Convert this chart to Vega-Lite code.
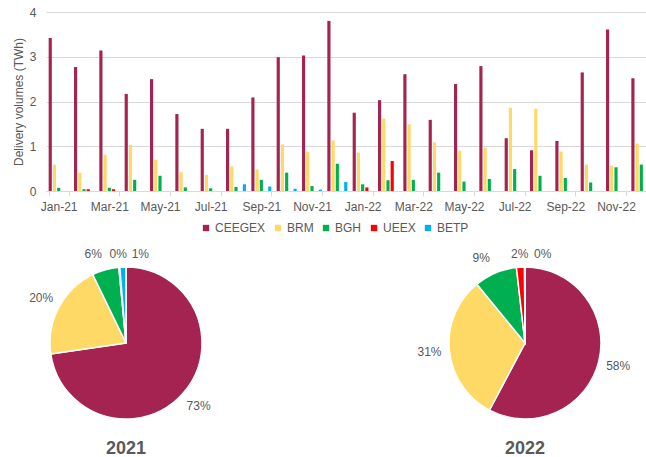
{
  "$schema": "https://vega.github.io/schema/vega-lite/v6.json",
  "padding": {"left": 12, "top": 6, "right": 0, "bottom": 0},
  "bounds": "flush",
  "spacing": 73,
  "config": {
    "font": "Liberation Sans",
    "view": {"stroke": null},
    "axis": {"labelFont": "Liberation Sans", "titleFont": "Liberation Sans"},
    "legend": {"labelFont": "Liberation Sans"},
    "title": {"font": "Liberation Sans"}
  },
  "resolve": {"scale": {"color": "independent"}, "legend": {"color": "independent"}},
  "datasets": {
    "monthly": [
      {"month": "Jan-21", "market": "CEEGEX", "value": 3.42},
      {"month": "Jan-21", "market": "BRM", "value": 0.59},
      {"month": "Jan-21", "market": "BGH", "value": 0.07},
      {"month": "Feb-21", "market": "CEEGEX", "value": 2.77},
      {"month": "Feb-21", "market": "BRM", "value": 0.41},
      {"month": "Feb-21", "market": "BGH", "value": 0.04},
      {"month": "Feb-21", "market": "UEEX", "value": 0.04},
      {"month": "Mar-21", "market": "CEEGEX", "value": 3.14},
      {"month": "Mar-21", "market": "BRM", "value": 0.81},
      {"month": "Mar-21", "market": "BGH", "value": 0.07},
      {"month": "Mar-21", "market": "UEEX", "value": 0.04},
      {"month": "Apr-21", "market": "CEEGEX", "value": 2.17},
      {"month": "Apr-21", "market": "BRM", "value": 1.03},
      {"month": "Apr-21", "market": "BGH", "value": 0.25},
      {"month": "May-21", "market": "CEEGEX", "value": 2.5},
      {"month": "May-21", "market": "BRM", "value": 0.7},
      {"month": "May-21", "market": "BGH", "value": 0.34},
      {"month": "Jun-21", "market": "CEEGEX", "value": 1.72},
      {"month": "Jun-21", "market": "BRM", "value": 0.42},
      {"month": "Jun-21", "market": "BGH", "value": 0.08},
      {"month": "Jul-21", "market": "CEEGEX", "value": 1.39},
      {"month": "Jul-21", "market": "BRM", "value": 0.36},
      {"month": "Jul-21", "market": "BGH", "value": 0.06},
      {"month": "Aug-21", "market": "CEEGEX", "value": 1.39},
      {"month": "Aug-21", "market": "BRM", "value": 0.55},
      {"month": "Aug-21", "market": "BGH", "value": 0.09},
      {"month": "Aug-21", "market": "BETP", "value": 0.15},
      {"month": "Sep-21", "market": "CEEGEX", "value": 2.09},
      {"month": "Sep-21", "market": "BRM", "value": 0.48},
      {"month": "Sep-21", "market": "BGH", "value": 0.25},
      {"month": "Sep-21", "market": "BETP", "value": 0.1},
      {"month": "Oct-21", "market": "CEEGEX", "value": 2.99},
      {"month": "Oct-21", "market": "BRM", "value": 1.04},
      {"month": "Oct-21", "market": "BGH", "value": 0.41},
      {"month": "Oct-21", "market": "BETP", "value": 0.05},
      {"month": "Nov-21", "market": "CEEGEX", "value": 3.03},
      {"month": "Nov-21", "market": "BRM", "value": 0.88},
      {"month": "Nov-21", "market": "BGH", "value": 0.11},
      {"month": "Nov-21", "market": "BETP", "value": 0.03},
      {"month": "Dec-21", "market": "CEEGEX", "value": 3.8},
      {"month": "Dec-21", "market": "BRM", "value": 1.13},
      {"month": "Dec-21", "market": "BGH", "value": 0.61},
      {"month": "Dec-21", "market": "BETP", "value": 0.2},
      {"month": "Jan-22", "market": "CEEGEX", "value": 1.75},
      {"month": "Jan-22", "market": "BRM", "value": 0.86},
      {"month": "Jan-22", "market": "BGH", "value": 0.15},
      {"month": "Jan-22", "market": "UEEX", "value": 0.08},
      {"month": "Feb-22", "market": "CEEGEX", "value": 2.03},
      {"month": "Feb-22", "market": "BRM", "value": 1.62},
      {"month": "Feb-22", "market": "BGH", "value": 0.24},
      {"month": "Feb-22", "market": "UEEX", "value": 0.67},
      {"month": "Mar-22", "market": "CEEGEX", "value": 2.61},
      {"month": "Mar-22", "market": "BRM", "value": 1.49},
      {"month": "Mar-22", "market": "BGH", "value": 0.25},
      {"month": "Apr-22", "market": "CEEGEX", "value": 1.59},
      {"month": "Apr-22", "market": "BRM", "value": 1.09},
      {"month": "Apr-22", "market": "BGH", "value": 0.41},
      {"month": "May-22", "market": "CEEGEX", "value": 2.39},
      {"month": "May-22", "market": "BRM", "value": 0.9},
      {"month": "May-22", "market": "BGH", "value": 0.21},
      {"month": "Jun-22", "market": "CEEGEX", "value": 2.79},
      {"month": "Jun-22", "market": "BRM", "value": 0.97},
      {"month": "Jun-22", "market": "BGH", "value": 0.27},
      {"month": "Jul-22", "market": "CEEGEX", "value": 1.18},
      {"month": "Jul-22", "market": "BRM", "value": 1.86},
      {"month": "Jul-22", "market": "BGH", "value": 0.49},
      {"month": "Aug-22", "market": "CEEGEX", "value": 0.91},
      {"month": "Aug-22", "market": "BRM", "value": 1.84},
      {"month": "Aug-22", "market": "BGH", "value": 0.34},
      {"month": "Sep-22", "market": "CEEGEX", "value": 1.12},
      {"month": "Sep-22", "market": "BRM", "value": 0.88},
      {"month": "Sep-22", "market": "BGH", "value": 0.29},
      {"month": "Oct-22", "market": "CEEGEX", "value": 2.65},
      {"month": "Oct-22", "market": "BRM", "value": 0.59},
      {"month": "Oct-22", "market": "BGH", "value": 0.19},
      {"month": "Nov-22", "market": "CEEGEX", "value": 3.61},
      {"month": "Nov-22", "market": "BRM", "value": 0.57},
      {"month": "Nov-22", "market": "BGH", "value": 0.53},
      {"month": "Dec-22", "market": "CEEGEX", "value": 2.52},
      {"month": "Dec-22", "market": "BRM", "value": 1.06},
      {"month": "Dec-22", "market": "BGH", "value": 0.59}
    ],
    "shares": [
      {"year": 2021, "market": "CEEGEX", "share": 0.727},
      {"year": 2021, "market": "BRM", "share": 0.201},
      {"year": 2021, "market": "BGH", "share": 0.057},
      {"year": 2021, "market": "UEEX", "share": 0.002},
      {"year": 2021, "market": "BETP", "share": 0.013},
      {"year": 2022, "market": "CEEGEX", "share": 0.577},
      {"year": 2022, "market": "BRM", "share": 0.313},
      {"year": 2022, "market": "BGH", "share": 0.091},
      {"year": 2022, "market": "UEEX", "share": 0.017},
      {"year": 2022, "market": "BETP", "share": 0.001}
    ]
  },
  "vconcat": [
    {
      "width": 608,
      "height": 179,
      "data": {"name": "monthly"},
      "mark": {"type": "bar"},
      "encoding": {
        "x": {
          "field": "month", "type": "ordinal", "sort": null,
          "scale": {"paddingInner": 0.21, "paddingOuter": 0.105},
          "axis": {
            "title": null,
            "values": ["Jan-21", "Mar-21", "May-21", "Jul-21", "Sep-21", "Nov-21", "Jan-22", "Mar-22", "May-22", "Jul-22", "Sep-22", "Nov-22"],
            "labelAngle": 0, "labelColor": "#595959", "labelFontSize": 12, "labelPadding": 5,
            "domainColor": "#d9d9d9", "tickColor": "#d9d9d9", "tickSize": 5, "tickBand": "extent", "grid": false
          }
        },
        "xOffset": {
          "field": "market", "type": "nominal",
          "scale": {"domain": ["CEEGEX", "BRM", "BGH", "UEEX", "BETP"], "paddingInner": 0.25, "paddingOuter": 0}
        },
        "y": {
          "field": "value", "type": "quantitative",
          "scale": {"domain": [0, 4]},
          "axis": {
            "title": "Delivery volumes (TWh)", "titleColor": "#595959", "titleFontSize": 12, "titleFontWeight": "normal", "titlePadding": 4,
            "values": [0, 1, 2, 3, 4], "domain": false, "ticks": false, "tickSize": 0,
            "labelColor": "#595959", "labelFontSize": 12, "labelPadding": 10, "gridColor": "#d9d9d9"
          }
        },
        "color": {
          "field": "market", "type": "nominal",
          "scale": {"domain": ["CEEGEX", "BRM", "BGH", "UEEX", "BETP"], "range": ["#A52350", "#FFD966", "#00B050", "#FF0000", "#00B0F0"]},
          "legend": {
            "orient": "none", "legendX": 154, "legendY": 210, "direction": "horizontal", "title": null,
            "symbolType": "square", "symbolSize": 40, "symbolStrokeWidth": 0,
            "labelFontSize": 12, "labelColor": "#595959", "labelOffset": 3, "columnPadding": 6
          }
        }
      }
    },
    {
      "hconcat": [
        {
          "width": 160,
          "height": 158,
          "data": {"name": "shares"},
          "transform": [{"filter": "datum.year == 2021"}, {"window": [{"op": "row_number", "as": "rank"}]}],
          "title": {"text": "2021", "orient": "bottom", "fontSize": 18, "fontWeight": "bold", "color": "#595959", "offset": 18},
          "encoding": {
            "theta": {"field": "share", "type": "quantitative", "stack": true},
            "order": {"field": "rank", "type": "quantitative"}
          },
          "layer": [
            {
              "mark": {"type": "arc", "outerRadius": 76, "stroke": "white", "strokeWidth": 1.5},
              "encoding": {
                "color": {"field": "market", "type": "nominal", "scale": {"domain": ["CEEGEX", "BRM", "BGH", "UEEX", "BETP"], "range": ["#A52350", "#FFD966", "#00B050", "#FF0000", "#00B0F0"]}, "legend": null}
              }
            },
            {
              "mark": {"type": "text", "radius": 96, "fontSize": 12, "fill": "#595959"},
              "encoding": {
                "text": {"field": "share", "type": "quantitative", "format": ".0%"},
                "opacity": {"condition": {"test": "datum.market == 'CEEGEX' || datum.market == 'BRM'", "value": 1}, "value": 0}
              }
            },
            {
              "mark": {"type": "text", "radius": 92, "dx": -8, "fontSize": 12, "fill": "#595959"},
              "encoding": {
                "text": {"field": "share", "type": "quantitative", "format": ".0%"},
                "opacity": {"condition": {"test": "datum.market == 'BGH'", "value": 1}, "value": 0}
              }
            },
            {
              "mark": {"type": "text", "radius": 89, "fontSize": 12, "fill": "#595959"},
              "encoding": {
                "text": {"field": "share", "type": "quantitative", "format": ".0%"},
                "opacity": {"condition": {"test": "datum.market == 'UEEX'", "value": 1}, "value": 0}
              }
            },
            {
              "mark": {"type": "text", "radius": 89, "dx": 18, "fontSize": 12, "fill": "#595959"},
              "encoding": {
                "text": {"field": "share", "type": "quantitative", "format": ".0%"},
                "opacity": {"condition": {"test": "datum.market == 'BETP'", "value": 1}, "value": 0}
              }
            }
          ]
        },
        {
          "width": 160,
          "height": 158,
          "data": {"name": "shares"},
          "transform": [{"filter": "datum.year == 2022"}, {"window": [{"op": "row_number", "as": "rank"}]}],
          "title": {"text": "2022", "orient": "bottom", "fontSize": 18, "fontWeight": "bold", "color": "#595959", "offset": 18},
          "encoding": {
            "theta": {"field": "share", "type": "quantitative", "stack": true},
            "order": {"field": "rank", "type": "quantitative"}
          },
          "layer": [
            {
              "mark": {"type": "arc", "outerRadius": 76, "stroke": "white", "strokeWidth": 1.5},
              "encoding": {
                "color": {"field": "market", "type": "nominal", "scale": {"domain": ["CEEGEX", "BRM", "BGH", "UEEX", "BETP"], "range": ["#A52350", "#FFD966", "#00B050", "#FF0000", "#00B0F0"]}, "legend": null}
              }
            },
            {
              "mark": {"type": "text", "radius": 96, "fontSize": 12, "fill": "#595959"},
              "encoding": {
                "text": {"field": "share", "type": "quantitative", "format": ".0%"},
                "opacity": {"condition": {"test": "datum.market == 'CEEGEX' || datum.market == 'BRM'", "value": 1}, "value": 0}
              }
            },
            {
              "mark": {"type": "text", "radius": 92, "dx": -8, "fontSize": 12, "fill": "#595959"},
              "encoding": {
                "text": {"field": "share", "type": "quantitative", "format": ".0%"},
                "opacity": {"condition": {"test": "datum.market == 'BGH'", "value": 1}, "value": 0}
              }
            },
            {
              "mark": {"type": "text", "radius": 89, "fontSize": 12, "fill": "#595959"},
              "encoding": {
                "text": {"field": "share", "type": "quantitative", "format": ".0%"},
                "opacity": {"condition": {"test": "datum.market == 'UEEX'", "value": 1}, "value": 0}
              }
            },
            {
              "mark": {"type": "text", "radius": 89, "dx": 18, "fontSize": 12, "fill": "#595959"},
              "encoding": {
                "text": {"field": "share", "type": "quantitative", "format": ".0%"},
                "opacity": {"condition": {"test": "datum.market == 'BETP'", "value": 1}, "value": 0}
              }
            }
          ]
        }
      ],
      "spacing": 239,
      "bounds": "flush"
    }
  ]
}
